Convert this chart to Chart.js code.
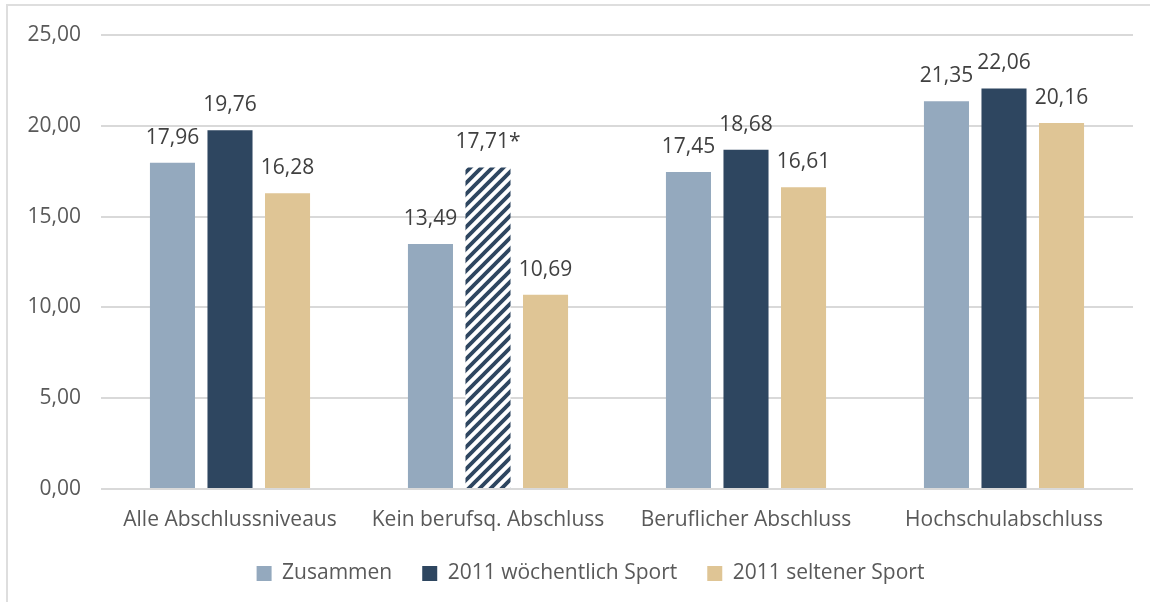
<!DOCTYPE html>
<html>
<head>
<meta charset="utf-8">
<script src="https://cdn.jsdelivr.net/npm/chart.js@4.4.1/dist/chart.umd.min.js"></script>
<style>
  html, body { margin: 0; padding: 0; background: #fff; overflow: hidden; }
  #wrap { position: relative; width: 1150px; height: 602px; }
  #frame { position: absolute; left: 6px; top: 4px; width: 2000px; height: 2000px; border: 2px solid #dedede; box-sizing: border-box; }
  #chart { position: absolute; left: 0; top: 0; }
</style>
</head>
<body>
<div id="wrap">
  <div id="frame"></div>
  <canvas id="chart" width="1150" height="602"></canvas>
</div>
<script>
// Data
const categories = ['Alle Abschlussniveaus', 'Kein berufsq. Abschluss', 'Beruflicher Abschluss', 'Hochschulabschluss'];
const zusammen = [17.96, 13.49, 17.45, 21.35];
const woechentlich = [19.76, 17.71, 18.68, 22.06];
const seltener = [16.28, 10.69, 16.61, 20.16];
const seriesNames = ['Zusammen', '2011 wöchentlich Sport', '2011 seltener Sport'];
const starredBar = { dataset: 1, index: 1 }; // hatched bar with "*"
const yTicks = [0, 5, 10, 15, 20, 25];

const COLORS = {
  zusammen: '#94a9be',
  woechentlich: '#2e4660',
  seltener: '#dfc595',
  text: '#595959',
  label: '#404040',
  grid: '#d9d9d9'
};
const FONT = "'Open Sans', sans-serif";

// diagonal "/" stripes, tile repeats seamlessly (lines x+y = 0, s, 2s)
function makeHatch(color) {
  const s = 11;
  const p = document.createElement('canvas');
  p.width = s;
  p.height = s;
  const c = p.getContext('2d');
  c.fillStyle = '#fff';
  c.fillRect(0, 0, s, s);
  c.strokeStyle = color;
  c.lineWidth = 3.8;
  c.beginPath();
  c.moveTo(-2, s + 2); c.lineTo(s + 2, -2);
  c.moveTo(-2, 2); c.lineTo(2, -2);
  c.moveTo(s - 2, s + 2); c.lineTo(s + 2, s - 2);
  c.stroke();
  return c.createPattern(p, 'repeat');
}

const fmt = v => v.toFixed(2).replace('.', ',');

const ctx = document.getElementById('chart').getContext('2d');
const hatch = makeHatch(COLORS.woechentlich);

const valueLabels = {
  id: 'valueLabels',
  afterDatasetsDraw(chart) {
    const c = chart.ctx;
    c.save();
    c.font = '21px ' + FONT;
    c.fillStyle = COLORS.label;
    c.textAlign = 'center';
    c.textBaseline = 'alphabetic';
    chart.data.datasets.forEach((ds, di) => {
      chart.getDatasetMeta(di).data.forEach((bar, i) => {
        let txt = fmt(ds.data[i]);
        if (di === starredBar.dataset && i === starredBar.index) txt += '*';
        c.fillText(txt, bar.x, bar.y - 19);
      });
    });
    c.restore();
  }
};

// legend in the reference sits a little right of the canvas centre
const legendShift = {
  id: 'legendShift',
  afterLayout(chart) {
    const l = chart.legend;
    if (!l) return;
    l.left += 24;
    l.right += 24;
  }
};

new Chart(ctx, {
  type: 'bar',
  data: {
    labels: categories,
    datasets: [
      { label: seriesNames[0], data: zusammen, backgroundColor: COLORS.zusammen },
      {
        label: seriesNames[1],
        data: woechentlich,
        backgroundColor: woechentlich.map((v, i) => i === starredBar.index ? hatch : COLORS.woechentlich)
      },
      { label: seriesNames[2], data: seltener, backgroundColor: COLORS.seltener }
    ]
  },
  options: {
    responsive: false,
    animation: false,
    devicePixelRatio: 1,
    datasets: { bar: { categoryPercentage: 0.669, barPercentage: 0.783 } },
    layout: { padding: { left: 0, right: 17, top: 35, bottom: 8 } },
    plugins: {
      tooltip: { enabled: false },
      legend: {
        position: 'bottom',
        labels: {
          color: COLORS.text,
          font: { family: FONT, size: 21 },
          boxWidth: 15,
          boxHeight: 15,
          padding: 30,
          generateLabels(chart) {
            const cols = [COLORS.zusammen, COLORS.woechentlich, COLORS.seltener];
            return chart.data.datasets.map((ds, i) => ({
              text: ds.label,
              fillStyle: cols[i],
              strokeStyle: cols[i],
              lineWidth: 0,
              fontColor: COLORS.text,
              datasetIndex: i
            }));
          }
        }
      }
    },
    scales: {
      x: {
        grid: { display: false },
        border: { display: false },
        ticks: { color: COLORS.text, font: { family: FONT, size: 21 }, padding: 10, maxRotation: 0 },
        afterFit(scale) { scale.height = 44; }
      },
      y: {
        min: 0,
        max: 25,
        afterBuildTicks(scale) { scale.ticks = yTicks.map(v => ({ value: v })); },
        grid: { color: COLORS.grid, lineWidth: 2, drawTicks: false },
        border: { display: false },
        ticks: {
          color: COLORS.text,
          font: { family: FONT, size: 21 },
          padding: 20,
          callback: v => fmt(v)
        },
        afterFit(scale) { scale.width = 101; }
      }
    }
  },
  plugins: [valueLabels, legendShift]
});
</script>
</body>
</html>
